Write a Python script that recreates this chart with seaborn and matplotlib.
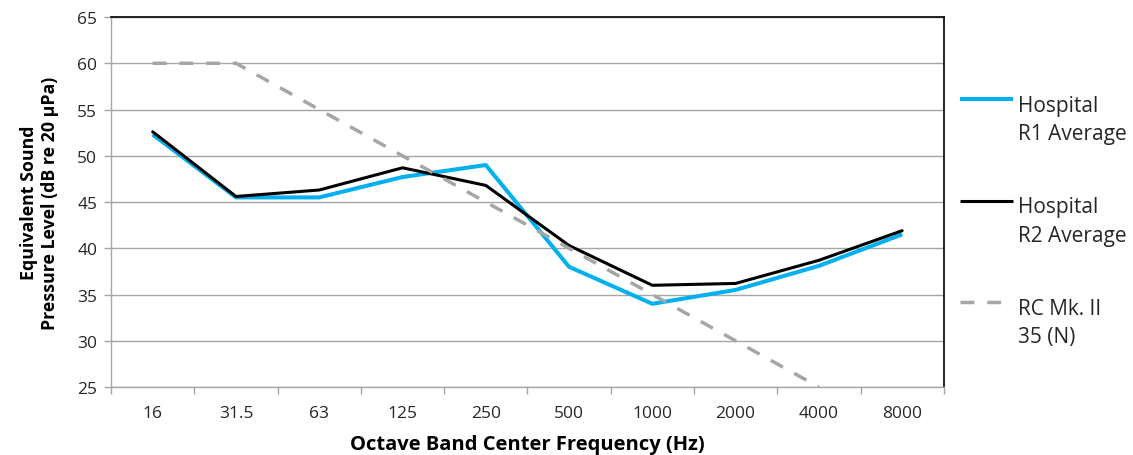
import numpy as np
import pandas as pd
import matplotlib
matplotlib.use("Agg")
import matplotlib.pyplot as plt
from matplotlib.lines import Line2D
import seaborn as sns

# Octave band centre frequencies and measured / criterion levels (dB)
bands = ["16", "31.5", "63", "125", "250", "500", "1000", "2000", "4000", "8000"]
r1_avg = [52.3, 45.5, 45.5, 47.7, 49.0, 38.0, 34.0, 35.5, 38.1, 41.5]
r2_avg = [52.6, 45.6, 46.3, 48.7, 46.8, 40.3, 36.0, 36.2, 38.7, 41.9]
rc_mk2 = [60, 60, 55, 50, 45, 40, 35, 30, 25, np.nan]

series_names = ["Hospital\nR1 Average", "Hospital\nR2 Average", "RC Mk. II\n35 (N)"]
y_ticks = [25, 30, 35, 40, 45, 50, 55, 60, 65]

sns.set_theme(style="white")
plt.rcParams["font.family"] = ["Open Sans", "DejaVu Sans"]

fig = plt.figure(figsize=(11.33, 4.56), dpi=100)
ax = fig.add_axes([0.098, 0.149, 0.735, 0.8115])

pos = np.arange(len(bands))
df = pd.DataFrame({"pos": pos, "r1": r1_avg, "r2": r2_avg, "rc": rc_mk2})

blue = "#00B0F0"
grey = "#A6A6A6"
text_col = "#262626"

sns.lineplot(data=df, x="pos", y="r1", ax=ax, color=blue, linewidth=2.9,
             solid_capstyle="butt", zorder=3)
sns.lineplot(data=df, x="pos", y="r2", ax=ax, color="black", linewidth=2.2,
             zorder=4)
sns.lineplot(data=df, x="pos", y="rc", ax=ax, color=grey, linewidth=2.5,
             dashes=False, zorder=5)
ax.lines[-1].set_dashes([4.0, 3.7])

ax.set_xlim(-0.5, len(bands) - 0.5)
ax.set_ylim(25, 65)
ax.set_yticks(y_ticks)
ax.set_yticklabels([str(v) for v in y_ticks])
ax.set_xticks(pos)
ax.set_xticklabels(bands)
ax.set_xticks(np.arange(len(bands) + 1) - 0.5, minor=True)

ax.yaxis.grid(True, color=grey, linewidth=1.0)
ax.set_axisbelow(True)

ax.tick_params(axis="x", which="major", length=0, pad=13, labelsize=12.5,
               labelcolor=text_col)
ax.tick_params(axis="x", which="minor", length=5, width=1, color=grey,
               direction="out", bottom=True)
ax.tick_params(axis="y", length=5, width=1, color=grey, direction="out",
               left=True, pad=5, labelsize=12.5, labelcolor=text_col)

for side in ["left", "bottom"]:
    ax.spines[side].set_color(grey)
    ax.spines[side].set_linewidth(1.0)
for side in ["top", "right"]:
    ax.spines[side].set_color("black")
    ax.spines[side].set_linewidth(1.2)

ax.set_xlabel("Octave Band Center Frequency (Hz)", fontsize=14.5,
              fontweight="bold", color="black", labelpad=9)
ax.set_ylabel("Equivalent Sound\nPressure Level (dB re 20 μPa)", fontsize=12.8,
              fontweight="bold", color="black", labelpad=13, linespacing=1.2)

# Legend at the right, handle level with the first text line of each entry
handles = [dict(color=blue, lw=2.9, ls="-"),
           dict(color="black", lw=2.2, ls="-"),
           dict(color=grey, lw=2.5, ls=(0, (4.0, 3.7)))]
W, H = 1133, 456
for i, (name, hs) in enumerate(zip(series_names, handles)):
    y_px = 100 + i * 101.5
    yf = 1 - y_px / H
    fig.add_artist(Line2D([960 / W, 1013 / W], [yf, yf], transform=fig.transFigure,
                          color=hs["color"], linewidth=hs["lw"], linestyle=hs["ls"],
                          solid_capstyle="butt"))
    fig.text(1018 / W, yf + 4 / H, name, fontsize=15, color=text_col,
             ha="left", va="top", linespacing=1.45)

fig.savefig("out.png", dpi=100)
